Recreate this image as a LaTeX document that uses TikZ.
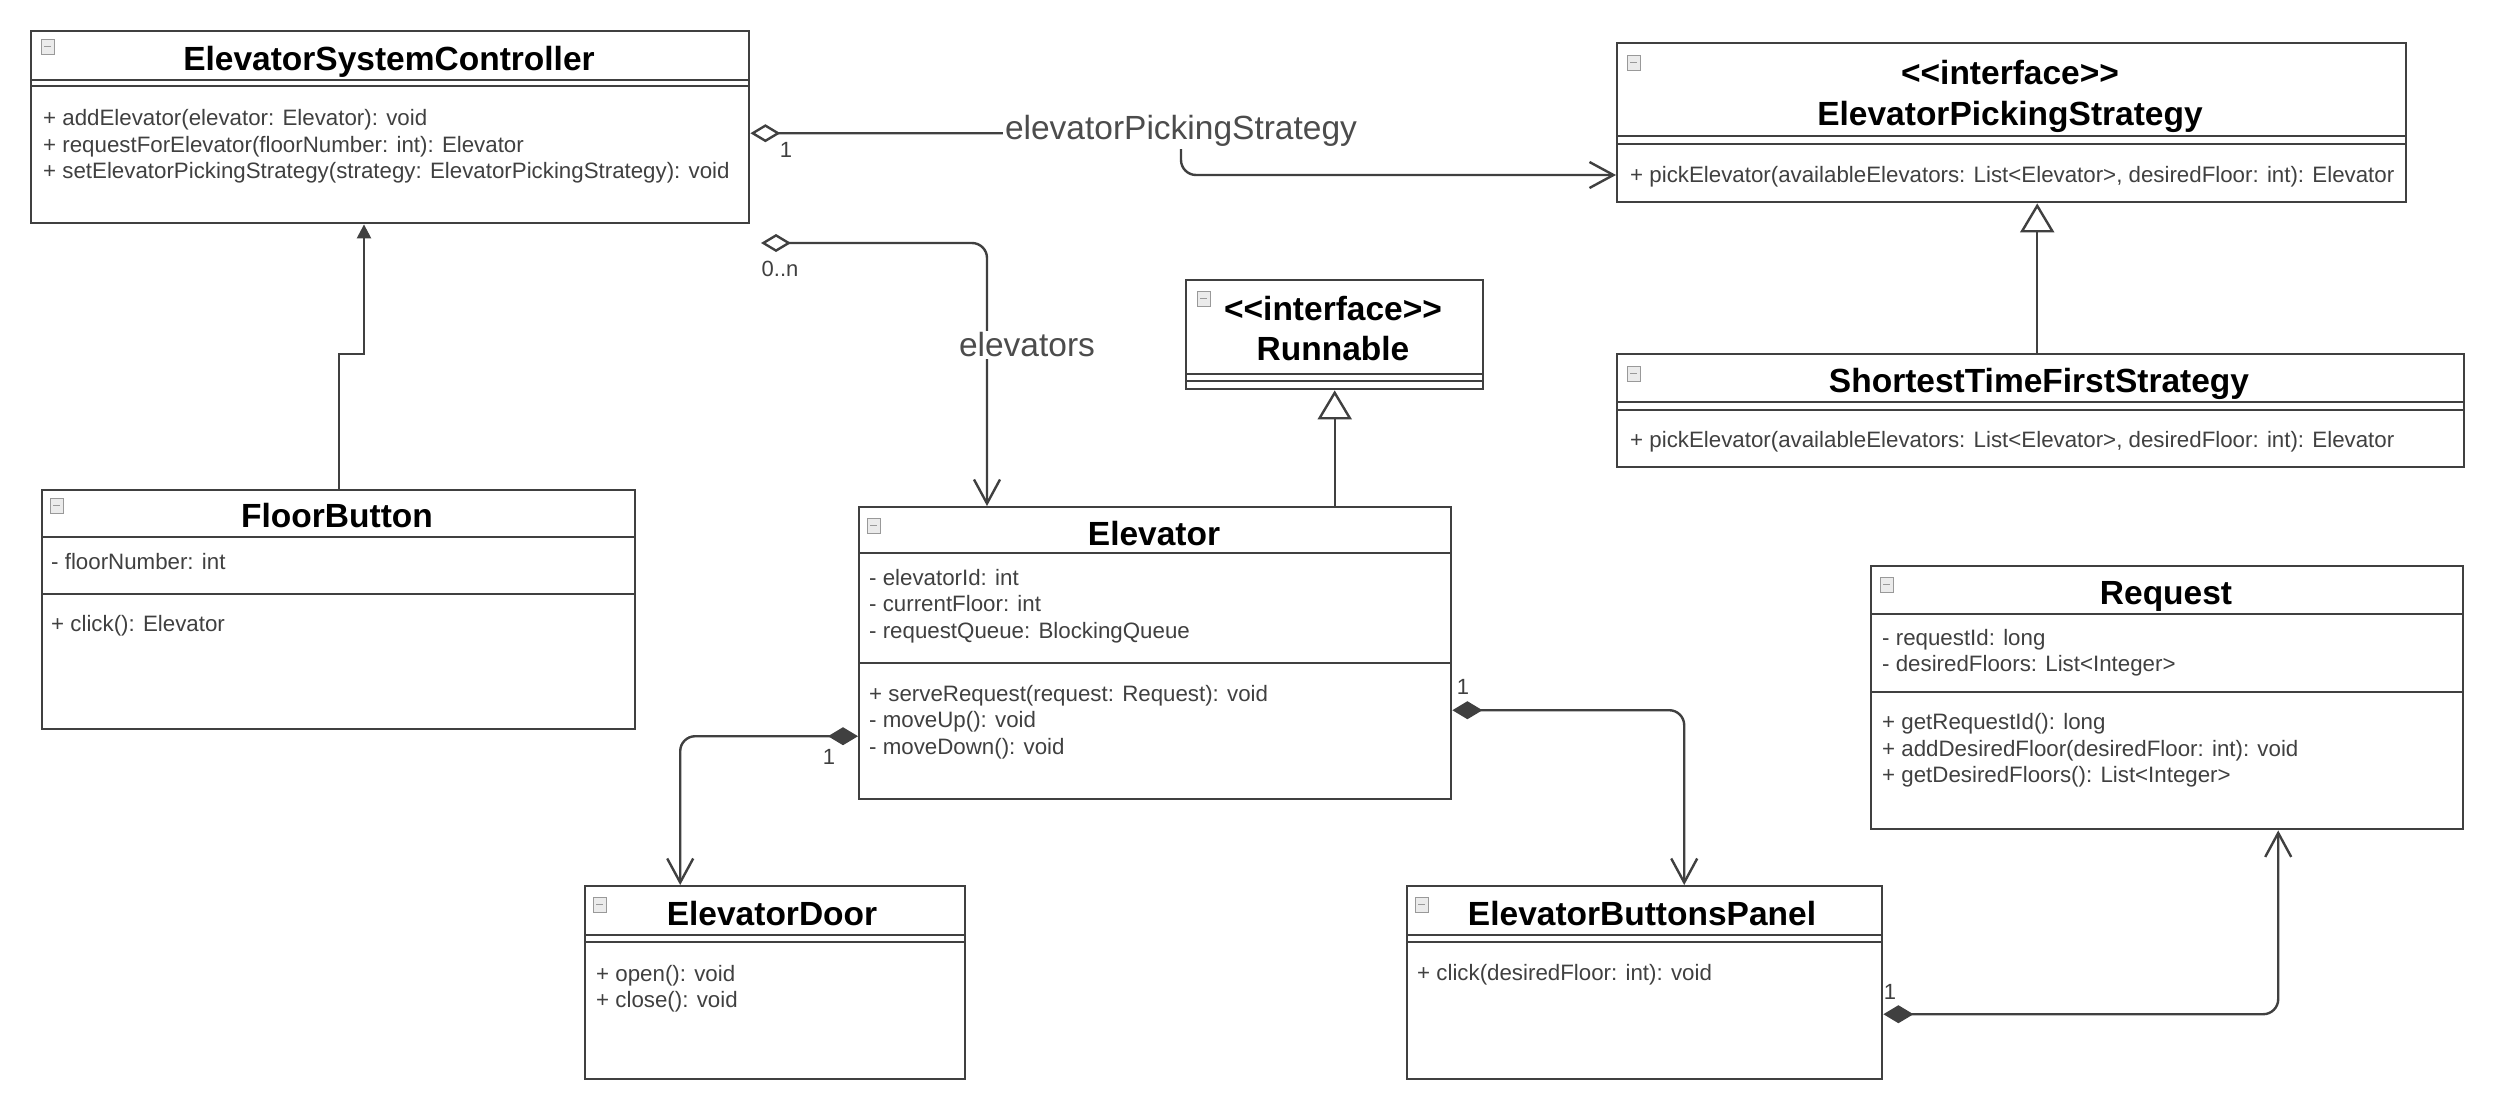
\documentclass[tikz,border=0pt]{standalone}
\usepackage{fontspec}
\setmainfont{Liberation Sans}
\usetikzlibrary{arrows.meta}

\begin{document}
\begin{tikzpicture}[x=1pt, y=-1pt]
	\tikzset{
		classbox/.style = {draw=black!75, line width=2.4pt, fill=white, inner sep=0pt, anchor=north west},
		sep/.style = {draw=black!75, line width=2.4pt},
		classname/.style = {font=\fontsize{33.5}{38}\selectfont\bfseries, text=black, inner sep=0pt, text height=24pt, text depth=0pt},
		members/.style = {font=\fontsize{22.3}{26.3}\selectfont, text=black!75, align=left, anchor=west, inner sep=0pt},
		mult/.style = {font=\fontsize{22}{24}\selectfont, text=black!75, inner sep=0pt},
		rolelabel/.style = {font=\fontsize{33.5}{38}\selectfont, text=black!70, fill=white, inner sep=2pt},
		line/.style = {draw=black!75, line width=2.4pt},
		foldbox/.style = {draw=black!40, line width=1pt, fill=black!8},
		aggr/.style = {line, rounded corners=15pt, {Diamond[open, length=30pt, width=18pt]}-{Straight Barb[length=24pt, width=26pt]}},
		comp/.style = {line, rounded corners=15pt, {Diamond[length=30pt, width=18pt]}-{Straight Barb[length=24pt, width=26pt]}},
		realize/.style = {line, -{Triangle[open, length=29pt, width=34pt]}}
	}
	\useasboundingbox[fill=white] (0,0) rectangle (2494,1106);

	% class boxes
	\node[classbox, minimum width=718, minimum height=192] (esc) at (30,30) {};
	\node[classbox, minimum width=789, minimum height=159] (eps) at (1616,42) {};
	\node[classbox, minimum width=847, minimum height=113] (stfs) at (1616,353) {};
	\node[classbox, minimum width=297, minimum height=109] (run) at (1185,279) {};
	\node[classbox, minimum width=592, minimum height=292] (elev) at (858,506) {};
	\node[classbox, minimum width=593, minimum height=239] (fb) at (41,489) {};
	\node[classbox, minimum width=380, minimum height=193] (door) at (584,885) {};
	\node[classbox, minimum width=475, minimum height=193] (ebp) at (1406,885) {};
	\node[classbox, minimum width=592, minimum height=263] (req) at (1870,565) {};

	% compartments
	\draw[sep] (30,80) -- (748,80);
	\draw[sep] (30,86) -- (748,86);
	\draw[sep] (1616,136) -- (2405,136);
	\draw[sep] (1616,144) -- (2405,144);
	\draw[sep] (1616,402) -- (2463,402);
	\draw[sep] (1616,410) -- (2463,410);
	\draw[sep] (1185,374) -- (1482,374);
	\draw[sep] (1185,381) -- (1482,381);
	\draw[sep] (858,553) -- (1450,553);
	\draw[sep] (858,663) -- (1450,663);
	\draw[sep] (41,537) -- (634,537);
	\draw[sep] (41,594) -- (634,594);
	\draw[sep] (584,935) -- (964,935);
	\draw[sep] (584,942) -- (964,942);
	\draw[sep] (1406,935) -- (1881,935);
	\draw[sep] (1406,942) -- (1881,942);
	\draw[sep] (1870,614) -- (2462,614);
	\draw[sep] (1870,692) -- (2462,692);

	\foreach \fx/\fy in {41/39, 1627/55, 1627/366, 1197/291, 867/518, 50/498, 593/897, 1415/897, 1880/577} {
		\draw[foldbox] (\fx,\fy) rectangle ++(13,15);
		\draw[foldbox] (\fx+3,\fy+7.5) -- ++(7,0);
	}

	% names and members
	\node[classname] (esc-name) at (389,58) {ElevatorSystemController};
	\node[members] (esc-ops) at (43,146.5) {+ addElevator(elevator: Elevator): void\\+ requestForElevator(floorNumber: int): Elevator\\+ setElevatorPickingStrategy(strategy: ElevatorPickingStrategy): void};

	\node[classname] (eps-stereo) at (2010,72) {<\kern0pt<interface>\kern0pt>};
	\node[classname] (eps-name) at (2010,113) {ElevatorPickingStrategy};
	\node[members] (eps-ops) at (1630,177) {+ pickElevator(availableElevators: List<Elevator>, desiredFloor: int): Elevator};

	\node[classname] (stfs-name) at (2039,380) {ShortestTimeFirstStrategy};
	\node[members] (stfs-ops) at (1630,442) {+ pickElevator(availableElevators: List<Elevator>, desiredFloor: int): Elevator};

	\node[classname] (run-stereo) at (1333,308) {<\kern0pt<interface>\kern0pt>};
	\node[classname] (run-name) at (1333,348) {Runnable};

	\node[classname] (elev-name) at (1154,533) {Elevator};
	\node[members] (elev-attr) at (869,606) {- elevatorId: int\\- currentFloor: int\\- requestQueue: BlockingQueue};
	\node[members] (elev-ops) at (869,722) {+ serveRequest(request: Request): void\\- moveUp(): void\\- moveDown(): void};

	\node[classname] (fb-name) at (337,515) {FloorButton};
	\node[members] (fb-attr) at (51,562) {- floorNumber: int};
	\node[members] (fb-ops) at (51,626) {+ click(): Elevator};

	\node[classname] (door-name) at (772,913) {ElevatorDoor};
	\node[members] (door-ops) at (596,988.5) {+ open(): void\\+ close(): void};

	\node[classname] (ebp-name) at (1642,913) {ElevatorButtonsPanel};
	\node[members] (ebp-ops) at (1417,975) {+ click(desiredFloor: int): void};

	\node[classname] (req-name) at (2166,592) {Request};
	\node[members] (req-attr) at (1882,653) {- requestId: long\\- desiredFloors: List<Integer>};
	\node[members] (req-ops) at (1882,750.5) {+ getRequestId(): long\\+ addDesiredFloor(desiredFloor: int): void\\+ getDesiredFloors(): List<Integer>};

	% connectors
	\coordinate (pickbend) at (1181,175);
	\draw[aggr] ([yshift=-6pt]esc.east) -| (pickbend) -- (pickbend -| eps.west);
	\node[rolelabel] (pick-lbl) at (1181,131) {elevatorPickingStrategy};
	\node[mult] (pick-mult) at (786,150) {1};

	\coordinate (elevagg) at (761,243);
	\draw[aggr] (elevagg) -| ([xshift=129pt]elev.north west);
	\node[rolelabel] (elev-lbl) at (1027,345) {elevators};
	\node[mult] (elev-mult) at (780,269) {0..n};

	\draw[realize] (elev.north -| run.south) -- (run.south);
	\coordinate (stfstop) at ([xshift=-3.5pt]stfs.north);
	\draw[realize] (stfstop) -- (stfstop |- eps.south);

	\coordinate (fbbend) at (364,354);
	\draw[line, -{Triangle[length=14pt, width=14pt]}] (fb.north) |- (fbbend) -- (fbbend |- esc.south);

	\draw[comp] ([yshift=-83pt]elev.west) -| ([xshift=-95pt]door.north);
	\node[mult] (door-mult) at (829,757) {1};
	\draw[comp] ([yshift=-57pt]elev.east) -| ([xshift=39.5pt]ebp.north);
	\node[mult] (ebp-mult) at (1463,687) {1};
	\draw[comp] ([yshift=-31.5pt]ebp.east) -| ([xshift=111pt]req.south);
	\node[mult] (req-mult) at (1890,992) {1};
\end{tikzpicture}
\end{document}
